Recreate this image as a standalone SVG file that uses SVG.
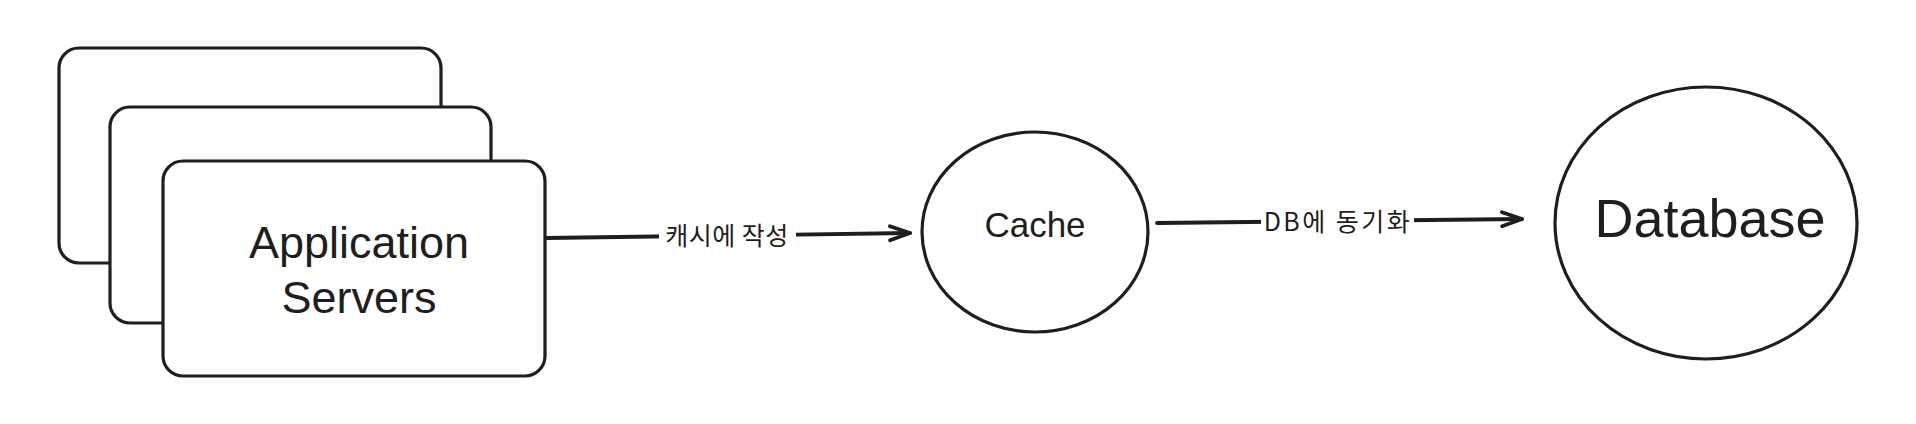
<svg xmlns="http://www.w3.org/2000/svg" width="1916" height="424" viewBox="0 0 1916 424">
  <defs>
    <style>
      .shape { fill: #ffffff; stroke: #1e1e1e; stroke-width: 3.2; stroke-linejoin: round; }
      .conn { fill: none; stroke: #1e1e1e; stroke-width: 3.8; stroke-linecap: round; }
      .node-text { font-family: "Liberation Sans", "Noto Sans", sans-serif; fill: #1e1e1e; text-anchor: middle; }
      .edge-label { font-family: "Noto Sans CJK KR", "Noto Sans", sans-serif; font-size: 25px; fill: #1e1e1e; text-anchor: middle; dominant-baseline: central; }
      .label-bg { fill: #ffffff; stroke: none; }
    </style>
    <marker id="arrow" markerUnits="userSpaceOnUse" markerWidth="30" markerHeight="24" refX="0" refY="0" viewBox="-24 -12 30 24" orient="auto" overflow="visible">
      <path d="M -20 -7 L 0 0 L -20 7" fill="none" stroke="#1e1e1e" stroke-width="3.8" stroke-linecap="round" stroke-linejoin="round"/>
    </marker>
  </defs>
  <rect width="1916" height="424" fill="#ffffff"/>

  <g id="app-server-back">
    <rect class="shape" x="59" y="48" width="382" height="215" rx="20" ry="20"/>
  </g>
  <g id="app-server-middle">
    <rect class="shape" x="110" y="107" width="381" height="216" rx="20" ry="20"/>
  </g>
  <g id="app-servers">
    <rect class="shape" x="163" y="161" width="382" height="215" rx="20" ry="20"/>
    <text class="node-text" x="359" y="258" font-size="45">Application</text>
    <text class="node-text" x="359" y="313" font-size="45">Servers</text>
  </g>

  <g id="cache">
    <ellipse class="shape" cx="1035" cy="232" rx="113" ry="100"/>
    <text class="node-text" x="1035" y="237" font-size="35">Cache</text>
  </g>

  <g id="database">
    <ellipse class="shape" cx="1706" cy="223" rx="151" ry="136"/>
    <text class="node-text" x="1710" y="237" font-size="54">Database</text>
  </g>

  <g id="connectors">
    <g id="edge-app-cache">
      <path class="conn" d="M 546 238 L 910 233" marker-end="url(#arrow)"/>
      <rect class="label-bg" x="659" y="219" width="137" height="32"/>
      <text class="edge-label" x="727" y="234" letter-spacing="0.5">캐시에 작성</text>
    </g>
    <g id="edge-cache-db">
      <path class="conn" d="M 1157 223 L 1522 219" marker-end="url(#arrow)"/>
      <rect class="label-bg" x="1261" y="204" width="153" height="32"/>
      <text class="edge-label" x="1338" y="220" letter-spacing="2.5">DB에 동기화</text>
    </g>
  </g>
</svg>
